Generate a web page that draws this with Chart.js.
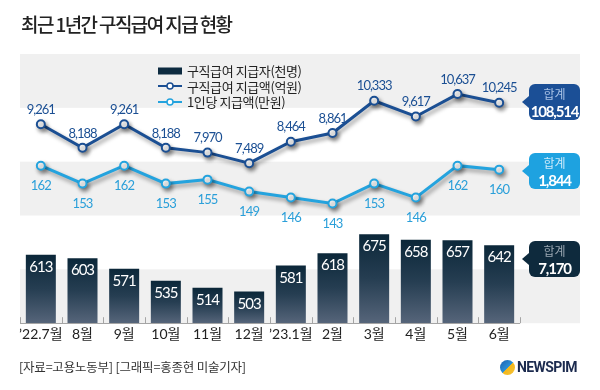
<!DOCTYPE html>
<html><head><meta charset="utf-8">
<script src="https://cdn.jsdelivr.net/npm/chart.js@4/dist/chart.umd.min.js"></script>
<style>
html,body{margin:0;padding:0;background:#fff;}
#wrap{position:relative;width:600px;height:390px;overflow:hidden;font-family:Lato,"Noto Sans CJK KR",sans-serif;}
canvas{position:absolute;left:0;top:0;}
.title{position:absolute;left:21px;top:11px;font:500 19px/26px "Noto Sans CJK KR",sans-serif;letter-spacing:-1.6px;color:#222;}
.legend{position:absolute;left:158px;top:63px;font:13px/15.5px "Noto Sans CJK KR",sans-serif;letter-spacing:-0.4px;color:#222;}
.legend div{height:15.5px;display:flex;align-items:center;}
.legend svg{margin-right:5px;}
.callout{position:absolute;left:529px;width:51px;height:36px;border-radius:6px;text-align:center;}
.callout::before{content:"";position:absolute;left:-7px;top:12px;border-top:6px solid transparent;border-bottom:6px solid transparent;border-right:7px solid var(--c);}
.callout .k{font:12px/18px "Noto Sans CJK KR",sans-serif;margin-top:1px;}
.callout .v{font:bold 15px/16px Lato,sans-serif;letter-spacing:-1.2px;color:#fff;}
.footer{position:absolute;left:19px;top:358px;font:12.5px/18px "Noto Sans CJK KR",sans-serif;letter-spacing:-0.2px;color:#333;}
.logo{position:absolute;left:500px;top:359px;display:flex;align-items:center;}
.logo .ic{width:15px;height:15px;border-radius:50%;background:linear-gradient(135deg,#1b5fb0 0%,#2b8fd6 50%,#f2b619 51%,#f6c33a 100%);margin-right:2px;}
.logo .t{font:bold 14px/16px Roboto,Arial,sans-serif;letter-spacing:-0.6px;color:#1b2a4e;}
</style></head>
<body><div id="wrap">
<canvas id="c" width="600" height="390"></canvas>
<div class="title">최근 1년간 구직급여 지급 현황</div>
<div class="legend">
 <div><svg width="24" height="8"><rect x="0" y="0.5" width="24" height="7" fill="#0d2b40"/></svg>구직급여 지급자(천명)</div>
 <div><svg width="24" height="8"><line x1="0" y1="4" x2="24" y2="4" stroke="#1b4f93" stroke-width="2"/><circle cx="12" cy="4" r="3" fill="#fff" stroke="#1b4f93" stroke-width="1.5"/></svg>구직급여 지급액(억원)</div>
 <div><svg width="24" height="8"><line x1="0" y1="4" x2="24" y2="4" stroke="#24a3de" stroke-width="2"/><circle cx="12" cy="4" r="3" fill="#fff" stroke="#24a3de" stroke-width="1.5"/></svg>1인당 지급액(만원)</div>
</div>
<div class="callout" id="c1" style="top:84px;background:#1b4f96;--c:#1b4f96"><div class="k" style="color:#a8c2e6">합계</div><div class="v" id="t1"></div></div>
<div class="callout" id="c2" style="top:153px;background:#1ea2e0;--c:#1ea2e0"><div class="k" style="color:#cdeafa">합계</div><div class="v" id="t2"></div></div>
<div class="callout" id="c3" style="top:241px;background:#0e2a3d;--c:#0e2a3d"><div class="k" style="color:#9aa7b2">합계</div><div class="v" id="t3"></div></div>
<div class="footer">[자료=고용노동부] [그래픽=홍종현 미술기자]</div>
<div class="logo"><div class="ic"></div><div class="t">NEWSPIM</div></div>
</div>
<script>
const categories = ['’22.7월','8월','9월','10월','11월','12월','’23.1월','2월','3월','4월','5월','6월'];
const recipients = [613,603,571,535,514,503,581,618,675,658,657,642];   // 구직급여 지급자(천명)
const payments   = [9261,8188,9261,8188,7970,7489,8464,8861,10333,9617,10637,10245]; // 구직급여 지급액(억원)
const perPerson  = [162,153,162,153,155,149,146,143,153,146,162,160];   // 1인당 지급액(만원)

const sum = a => a.reduce((s,v)=>s+v,0);
document.getElementById('t1').textContent = sum(payments).toLocaleString('en-US');
document.getElementById('t2').textContent = sum(perPerson).toLocaleString('en-US');
document.getElementById('t3').textContent = sum(recipients).toLocaleString('en-US');

const bandsPlugin = {
  id:'bands',
  beforeDraw(chart){
    const {ctx, chartArea:a} = chart;
    const h = (a.bottom - a.top)/5;
    ctx.save();
    ctx.fillStyle = '#f0f0f0';
    [0,2,4].forEach(i => ctx.fillRect(a.left, a.top + i*h, a.right - a.left + 60, h));
    ctx.restore();
  }
};
const axisPlugin = {
  id:'axisline',
  afterDatasetsDraw(chart){
    const {ctx, chartArea:a} = chart;
    const n = categories.length, w = (a.right - a.left)/n;
    ctx.save();
    ctx.strokeStyle = '#a5a5a5'; ctx.lineWidth = 1;
    ctx.beginPath();
    ctx.moveTo(a.left, Math.round(a.bottom)+0.5); ctx.lineTo(a.right, Math.round(a.bottom)+0.5);
    for (let i=0;i<=n;i++){ const x = Math.round(a.left + i*w)+0.5; ctx.moveTo(x, a.bottom-6); ctx.lineTo(x, a.bottom); }
    ctx.stroke(); ctx.restore();
  }
};
const shadowPlugin = {
  id:'shadow',
  beforeDatasetDraw(chart, args){
    if (chart.data.datasets[args.index].type !== 'line') return;
    const ctx = chart.ctx; ctx.save();
    ctx.shadowColor = 'rgba(0,0,0,0.4)'; ctx.shadowBlur = 4; ctx.shadowOffsetX = 2; ctx.shadowOffsetY = 3;
  },
  afterDatasetDraw(chart, args){
    if (chart.data.datasets[args.index].type !== 'line') return;
    chart.ctx.restore();
  }
};
const labelPlugin = {
  id:'labels',
  afterDatasetsDraw(chart){
    const ctx = chart.ctx;
    ctx.save(); ctx.textAlign = 'center'; ctx.textBaseline = 'middle';
    chart.data.datasets.forEach((ds, di) => {
      const meta = chart.getDatasetMeta(di);
      meta.data.forEach((el, i) => {
        const txt = ds.data[i].toLocaleString('en-US');
        if (di === 0) { ctx.font = '15px Lato'; ctx.letterSpacing = '-1px'; ctx.fillStyle = '#fff'; ctx.fillText(txt, el.x, el.y + 12.5); }
        else if (di === 1) { ctx.font = '13px Lato'; ctx.letterSpacing = '-1px'; ctx.fillStyle = '#1b4f93'; ctx.fillText(txt, el.x, el.y - 14.5); }
        else { ctx.font = '13px Lato'; ctx.letterSpacing = '-0.8px'; ctx.fillStyle = '#2a9fd9'; ctx.fillText(txt, el.x, el.y + 20); }
      });
    });
    ctx.restore();
  }
};

new Chart(document.getElementById('c'), {
  data: {
    labels: categories,
    datasets: [
      { type:'bar', label:'구직급여 지급자(천명)', data: recipients, yAxisID:'yBar',
        categoryPercentage:1, barPercentage:0.72, borderWidth:0,
        backgroundColor: (c) => {
          const chart = c.chart; const a = chart.chartArea;
          if (!a || c.parsed === undefined) return '#0d2b40';
          const top = chart.scales.yBar.getPixelForValue(c.parsed.y);
          const g = chart.ctx.createLinearGradient(0, top, 0, a.bottom);
          g.addColorStop(0, '#0b2739'); g.addColorStop(0.5, '#263e52'); g.addColorStop(1, '#56657a');
          return g;
        }, order:3 },
      { type:'line', label:'구직급여 지급액(억원)', data: payments, yAxisID:'yPay',
        borderColor:'#1b4f93', borderWidth:3, pointRadius:4, pointBorderWidth:2,
        pointBackgroundColor:'#fff', pointBorderColor:'#1b4f93', tension:0, order:1 },
      { type:'line', label:'1인당 지급액(만원)', data: perPerson, yAxisID:'yPer',
        borderColor:'#24a3de', borderWidth:3, pointRadius:4, pointBorderWidth:2,
        pointBackgroundColor:'#fff', pointBorderColor:'#24a3de', tension:0, order:2 }
    ]
  },
  options: {
    responsive:false, animation:false, devicePixelRatio:1,
    layout:{ padding:{ left:20, right:80, top:54, bottom:44 } },
    plugins:{ legend:{display:false}, title:{display:false}, tooltip:{enabled:false} },
    scales:{
      x:{ offset:true, grid:{display:false, drawTicks:false}, border:{display:false},
          ticks:{ autoSkip:false, maxRotation:0, minRotation:0, padding:3, color:'#222',
                  font:{ size:14, family:'Lato, "Noto Sans CJK KR"' } } },
      yBar:{ display:false, min:408, max:1215 },
      yPay:{ display:false, min:199, max:12462 },
      yPer:{ display:false, min:83, max:218 }
    }
  },
  plugins:[bandsPlugin, shadowPlugin, axisPlugin, labelPlugin]
});
</script>
</body></html>
